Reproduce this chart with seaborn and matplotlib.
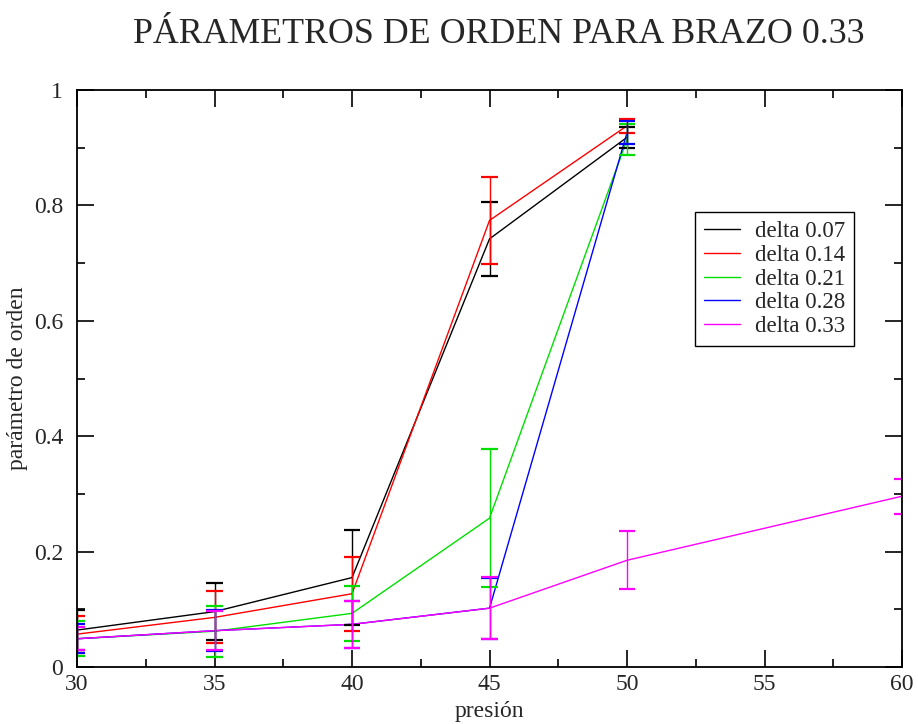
import matplotlib
matplotlib.use("Agg")
import matplotlib.pyplot as plt
from matplotlib.ticker import MultipleLocator
import numpy as np
import pandas as pd
import seaborn as sns

# Pressure values and order-parameter measurements for each delta
presion = [30, 35, 40, 45, 50]
presion_033 = [30, 35, 40, 45, 50, 60]

d007 = [0.064, 0.096, 0.155, 0.742, 0.918]
e007 = [0.035, 0.050, 0.083, 0.064, 0.018]
d014 = [0.057, 0.086, 0.127, 0.774, 0.938]
e014 = [0.032, 0.045, 0.064, 0.075, 0.012]
d021 = [0.049, 0.062, 0.093, 0.258, 0.914]
e021 = [0.030, 0.044, 0.048, 0.120, 0.027]
d028 = [0.049, 0.063, 0.074, 0.102, 0.926]
e028 = [0.025, 0.035, 0.041, 0.053, 0.020]
d033 = [0.049, 0.063, 0.074, 0.102, 0.185, 0.296]
e033 = [0.020, 0.034, 0.041, 0.054, 0.050, 0.030]

etiquetas = ["delta 0.07", "delta 0.14", "delta 0.21", "delta 0.28", "delta 0.33"]
colores = ["#000000", "#ff0000", "#00e000", "#0000ff", "#ff00ff"]

series = [
    (presion, d007, e007),
    (presion, d014, e014),
    (presion, d021, e021),
    (presion, d028, e028),
    (presion_033, d033, e033),
]

frames = []
for nombre, (xs, ys, es) in zip(etiquetas, series):
    frames.append(pd.DataFrame({"presion": xs, "orden": ys, "err": es, "serie": nombre}))
df = pd.concat(frames, ignore_index=True)

sns.set_theme(style="white")
plt.rcParams["font.family"] = ["Liberation Serif", "DejaVu Serif"]
plt.rcParams["axes.linewidth"] = 1.3

fig = plt.figure(figsize=(9.18, 7.24), dpi=100)
ax = fig.add_axes([0.0839, 0.0787, 0.8987, 0.797])

palette = dict(zip(etiquetas, colores))
sns.lineplot(data=df, x="presion", y="orden", hue="serie", palette=palette,
             hue_order=etiquetas, linewidth=1.0, ax=ax, estimator=None, sort=False)

# error bars: vertical stems plus horizontal caps (caps clipped at the frame)
cap_half = 0.3
for nombre in etiquetas:
    sub = df[df["serie"] == nombre]
    x = sub["presion"].to_numpy()
    y = sub["orden"].to_numpy()
    e = sub["err"].to_numpy()
    c = palette[nombre]
    ax.vlines(x, y - e, y + e, colors=c, linewidth=1.0)
    ax.hlines(np.concatenate([y - e, y + e]),
              np.concatenate([x, x]) - cap_half,
              np.concatenate([x, x]) + cap_half,
              colors=c, linewidth=1.6)

ax.set_xlim(30, 60)
ax.set_ylim(0, 1)
ax.xaxis.set_major_locator(MultipleLocator(5))
ax.xaxis.set_minor_locator(MultipleLocator(2.5))
ax.yaxis.set_major_locator(MultipleLocator(0.2))
ax.yaxis.set_minor_locator(MultipleLocator(0.1))
ax.set_yticks([0, 0.2, 0.4, 0.6, 0.8, 1.0])
ax.set_yticklabels(["0", "0.2", "0.4", "0.6", "0.8", "1"])
ax.tick_params(which="both", direction="in", top=True, right=True,
               bottom=True, left=True, color="black")
ax.tick_params(which="major", length=12, width=1.2, labelsize=17, pad=5)
ax.tick_params(axis="y", which="major", pad=10)
ax.tick_params(which="minor", length=6, width=1.2)
for s in ax.spines.values():
    s.set_color("black")

ax.set_xlabel("presión", fontsize=17, labelpad=4)
ax.set_ylabel("parámetro de orden", fontsize=17, labelpad=4)

leg = ax.legend(loc="upper left", bbox_to_anchor=(0.749, 0.789), fontsize=16.5,
                frameon=True, fancybox=False, edgecolor="black", framealpha=1,
                handlelength=1.55, borderpad=0.4, labelspacing=0.12,
                handletextpad=0.65, borderaxespad=0)
leg.get_frame().set_linewidth(1.0)

fig.text(0.543, 0.952, "PÁRAMETROS DE ORDEN PARA BRAZO 0.33", ha="center",
         va="center", fontsize=25.8)

fig.savefig("out.png", dpi=100)
